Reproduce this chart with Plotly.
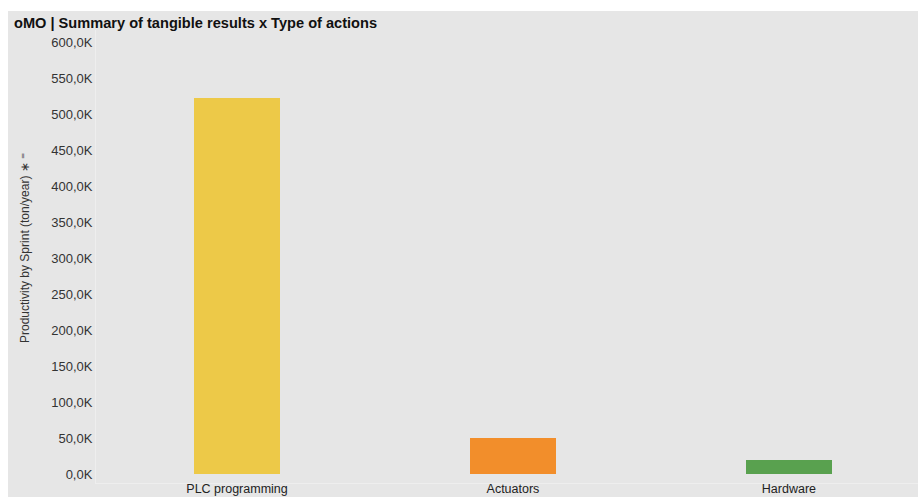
import plotly.graph_objects as go

# ---- data ----
categories = ["PLC programming", "Actuators", "Hardware"]
productivity = [522000, 50000, 19500]
bar_colors = ["#EDC948", "#F28E2B", "#59A14F"]
tick_values = [0, 50000, 100000, 150000, 200000, 250000, 300000,
               350000, 400000, 450000, 500000, 550000, 600000]
tick_labels = ["0,0K", "50,0K", "100,0K", "150,0K", "200,0K", "250,0K", "300,0K",
               "350,0K", "400,0K", "450,0K", "500,0K", "550,0K", "600,0K"]

W, H = 920, 497
ML, MR, MT, MB = 96, 0, 30, 14
PW, PH = W - ML - MR, H - MT - MB


def px_x(p):
    return (p - ML) / PW


def px_y(p):
    return (H - MB - p) / PH


fig = go.Figure(go.Bar(
    x=categories,
    y=productivity,
    marker=dict(color=bar_colors, line=dict(width=0)),
    width=0.312,
    hoverinfo="x+y",
))

BG = "#e6e6e6"
fig.update_layout(
    width=W, height=H,
    margin=dict(l=ML, r=MR, t=MT, b=MB, pad=0, autoexpand=False),
    paper_bgcolor=BG,
    plot_bgcolor=BG,
    font=dict(family="Liberation Sans, Arial, sans-serif", size=13, color="#333333"),
    showlegend=False,
    bargap=0,
    xaxis=dict(
        range=[-0.511, 2.475], automargin=False,
        showgrid=False, zeroline=False,
        showline=True, linecolor="#eeeeee", linewidth=1,
        ticks="", tickfont=dict(size=12.5, color="#222222"),
        ticklabelstandoff=-6,
    ),
    yaxis=dict(
        range=[-12500, 616700], automargin=False,
        tickvals=tick_values, ticktext=tick_labels,
        showgrid=False, zeroline=False,
        showline=True, linecolor="#eeeeee", linewidth=1,
        ticks="", tickfont=dict(size=13, color="#333333"),
    ),
    shapes=[
        # white strip on top
        dict(type="rect", xref="paper", yref="paper",
             x0=px_x(-5), x1=px_x(W + 5), y0=px_y(11), y1=px_y(-5),
             fillcolor="white", line=dict(width=0), layer="above"),
        # white strip on the left
        dict(type="rect", xref="paper", yref="paper",
             x0=px_x(-5), x1=px_x(8), y0=px_y(H + 5), y1=px_y(-5),
             fillcolor="white", line=dict(width=0), layer="above"),
        # white strip on the right
        dict(type="rect", xref="paper", yref="paper",
             x0=px_x(918), x1=px_x(W + 5), y0=px_y(H + 5), y1=px_y(-5),
             fillcolor="white", line=dict(width=0), layer="above"),
    ],
    annotations=[
        dict(text="<b>oMO | Summary of tangible results x Type of actions</b>",
             xref="paper", yref="paper", x=px_x(12), y=px_y(23),
             xanchor="left", yanchor="middle", showarrow=False,
             font=dict(size=14.6, color="#111111")),
        dict(text="Productivity by Sprint (ton/year) \u2217 \u207c",
             xref="paper", yref="paper", x=px_x(25), y=px_y(248),
             xanchor="center", yanchor="middle", textangle=-90, showarrow=False,
             font=dict(size=12, color="#333333")),
    ],
)

fig.write_html("out.html")
